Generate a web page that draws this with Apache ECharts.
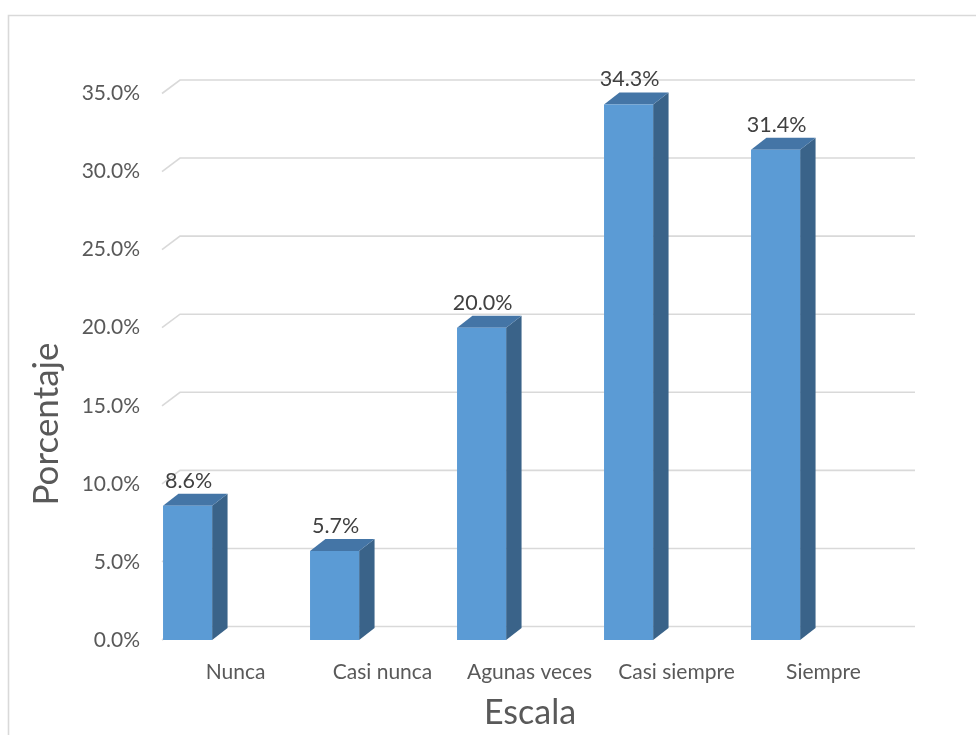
<!DOCTYPE html>
<html>
<head>
<meta charset="utf-8">
<script src="https://cdn.jsdelivr.net/npm/echarts@6/dist/echarts.min.js"></script>
<style>
  html, body { margin: 0; padding: 0; background: #ffffff; }
  #chart { width: 976px; height: 735px; }
</style>
</head>
<body>
<div id="chart"></div>
<script>
// Distribución de respuestas por escala
const categories = ['Nunca', 'Casi nunca', 'Agunas veces', 'Casi siempre', 'Siempre'];
const percentages = [8.6, 5.7, 20.0, 34.3, 31.4];
const yTicks = [0, 5, 10, 15, 20, 25, 30, 35];

const FONT = 'Lato, "Open Sans", sans-serif';
const TEXT_COLOR = '#595959';
const GRID_COLOR = '#d9d9d9';

// depth of the back wall relative to the front plane (pixels)
const WALL_DX = 18, WALL_DY = -13.5;

const chart = echarts.init(document.getElementById('chart'), null, { renderer: 'canvas' });

// back-wall gridlines with the short diagonal joining the front value axis
function renderGrid(params, api) {
  const v = api.value(0);
  const start = api.coord([0, v]);
  const band = api.size([1, 0])[0];
  const x0 = start[0] - band / 2;
  const xEnd = x0 + band * categories.length + WALL_DX;
  const y = start[1];
  return {
    type: 'polyline',
    shape: { points: [[x0, y], [x0 + WALL_DX, y + WALL_DY], [xEnd, y + WALL_DY]] },
    style: { stroke: GRID_COLOR, lineWidth: 1.6, fill: null },
    silent: true
  };
}

// 3D-looking column: side face, top face, front face
function renderBar(params, api) {
  const idx = api.value(0);
  const val = api.value(1);
  const top = api.coord([idx, val]);
  const base = api.coord([idx, 0]);
  const band = api.size([1, 0])[0];
  const xl = top[0] - band * 0.493;
  const w = band * 0.334;
  const xr = xl + w;
  const dx = band * 0.105, dy = -12;
  const yt = top[1], yb = base[1];
  return {
    type: 'group',
    children: [
      { type: 'polygon',
        shape: { points: [[xr, yb], [xr + dx, yb + dy], [xr + dx, yt + dy], [xr, yt]] },
        style: { fill: '#3a6389' } },
      { type: 'polygon',
        shape: { points: [[xl, yt], [xl + dx, yt + dy], [xr + dx, yt + dy], [xr, yt]] },
        style: { fill: '#4475a6' } },
      { type: 'rect',
        shape: { x: xl, y: yt, width: w, height: yb - yt },
        style: { fill: '#5b9bd5' } },
      { type: 'text',
        style: {
          text: val.toFixed(1) + '%',
          x: xl + w / 2 + 1, y: yt + dy - 13,
          align: 'center', verticalAlign: 'middle',
          fill: '#404040', font: '21.5px ' + FONT
        } }
    ]
  };
}

chart.setOption({
  backgroundColor: '#ffffff',
  animation: false,
  grid: { left: 162, right: 79, top: 93.5, bottom: 95, containLabel: false },
  xAxis: {
    type: 'category',
    data: categories,
    axisLine: { show: false },
    axisTick: { show: false },
    axisLabel: { color: TEXT_COLOR, fontSize: 21, fontFamily: FONT, margin: 22, interval: 0 }
  },
  yAxis: {
    type: 'value',
    min: 0, max: 35, interval: 5,
    axisLine: { show: false },
    axisTick: { show: false },
    splitLine: { show: false },
    axisLabel: {
      color: TEXT_COLOR, fontSize: 21, fontFamily: FONT, margin: 22,
      padding: [5, 0, 0, 0],
      formatter: v => v.toFixed(1) + '%'
    }
  },
  graphic: [
    { type: 'rect', shape: { x: 8.5, y: 15.5, width: 1200, height: 1000 },
      style: { fill: null, stroke: GRID_COLOR, lineWidth: 1.6 }, silent: true },
    { type: 'text', x: 47, y: 424, rotation: Math.PI / 2,
      style: { text: 'Porcentaje', font: '35px ' + FONT, fill: TEXT_COLOR,
               align: 'center', verticalAlign: 'middle' } },
    { type: 'text', x: 530, y: 713,
      style: { text: 'Escala', font: '34px ' + FONT, fill: TEXT_COLOR,
               align: 'center', verticalAlign: 'middle' } }
  ],
  series: [
    {
      type: 'custom',
      renderItem: renderGrid,
      data: yTicks.map(t => [t]),
      encode: { y: 0 },
      z: 1,
      silent: true
    },
    {
      type: 'custom',
      renderItem: renderBar,
      data: percentages.map((p, i) => [i, p]),
      encode: { x: 0, y: 1 },
      z: 5
    }
  ]
});
</script>
</body>
</html>
